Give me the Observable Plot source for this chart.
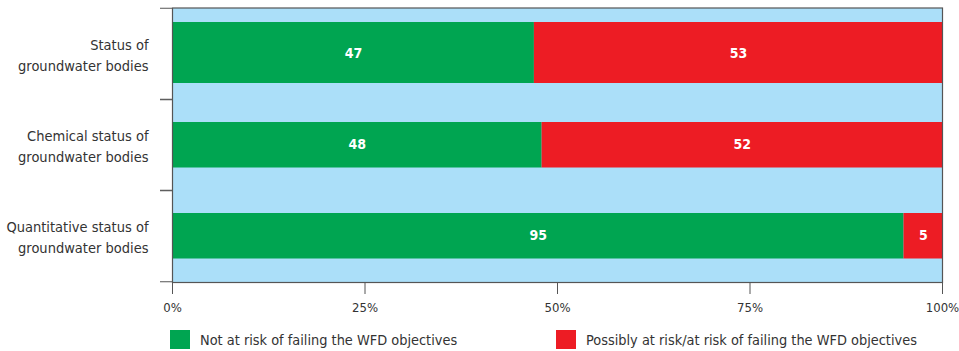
<!DOCTYPE html>
<html>
<head>
<meta charset="utf-8">
<script src="https://cdn.jsdelivr.net/npm/d3@7"></script>
<script src="https://cdn.jsdelivr.net/npm/@observablehq/plot@0.6"></script>
<style>
  html, body { margin: 0; padding: 0; background: #fff; }
  body { width: 959px; height: 351px; overflow: hidden; font-family: "DejaVu Sans Condensed", sans-serif; }
  #chart svg { display: block; }
  .legend { position: relative; height: 33px; color: #333; font-size: 14.4px; }
  .legend .item { position: absolute; top: 12px; display: flex; align-items: center; }
  .legend .swatch { width: 20px; height: 19px; margin-right: 10px; }
</style>
</head>
<body>
<div id="chart"></div>
<div class="legend" id="legend"></div>
<script>
// Groundwater bodies by WFD risk category (percent)
const categories = [
  "Status of\ngroundwater bodies",
  "Chemical status of\ngroundwater bodies",
  "Quantitative status of\ngroundwater bodies"
];
const seriesNames = [
  "Not at risk of failing the WFD objectives",
  "Possibly at risk/at risk of failing the WFD objectives"
];
const notAtRisk = [47, 48, 95];
const atRisk = [53, 52, 5];
const xTicks = [0, 25, 50, 75, 100];
const seriesColors = ["#00a551", "#ed1c24"];

const rows = categories.flatMap((c, i) => [
  {category: c, series: seriesNames[0], value: notAtRisk[i]},
  {category: c, series: seriesNames[1], value: atRisk[i]}
]);

const axisColor = "#555";

// The first bar is drawn thicker than the other two
const rowBars = categories.map((c, i) => {
  const subset = rows.filter(d => d.category === c);
  const insets = i === 0 ? {insetTop: 14, insetBottom: 16} : {insetTop: 23, insetBottom: 22.5};
  return [
    Plot.barX(subset, {x: "value", y: "category", fill: "series", ...insets}),
    Plot.text(subset, Plot.stackX({
      x: "value", y: "category", z: "series", text: "value",
      fill: "white", fontWeight: "bold", fontSize: 14, fontFamily: "'DejaVu Sans Condensed', sans-serif"
    }))
  ];
});

const chart = Plot.plot({
  width: 959,
  height: 318,
  marginLeft: 172,
  marginRight: 17,
  marginTop: 7.5,
  marginBottom: 36,
  style: {fontFamily: "'DejaVu Sans Condensed', sans-serif", fontSize: "14px", color: "#333", background: "white"},
  x: {domain: [0, 100]},
  y: {domain: categories, padding: 0},
  color: {domain: seriesNames, range: seriesColors},
  marks: [
    Plot.frame({fill: "#abdff9", stroke: null}),
    ...rowBars.flat(),
    Plot.frame({stroke: axisColor, strokeWidth: 1.2}),
    // category labels centred in each band
    Plot.axisY({tickSize: 0, tickPadding: 24, lineHeight: 1.45, fontSize: 14.5, label: null}),
    // short ticks on the band boundaries
    Plot.axisY({tickSize: 12, text: null, dy: -45.75, stroke: axisColor, label: null}),
    Plot.axisY({tickSize: 12, text: null, dy: 45.75, stroke: axisColor, label: null}),
    Plot.axisX({ticks: xTicks, tickSize: 12, tickPadding: 8, tickFormat: d => d + "%", fontSize: 13, stroke: axisColor, label: null})
  ]
});
document.getElementById("chart").append(chart);

// legend below the chart
const legend = document.getElementById("legend");
const legendLeft = [170, 556];
seriesNames.forEach((name, i) => {
  const item = document.createElement("div");
  item.className = "item";
  item.style.left = legendLeft[i] + "px";
  const sw = document.createElement("span");
  sw.className = "swatch";
  sw.style.background = seriesColors[i];
  const label = document.createElement("span");
  label.textContent = name;
  item.append(sw, label);
  legend.append(item);
});
</script>
</body>
</html>
